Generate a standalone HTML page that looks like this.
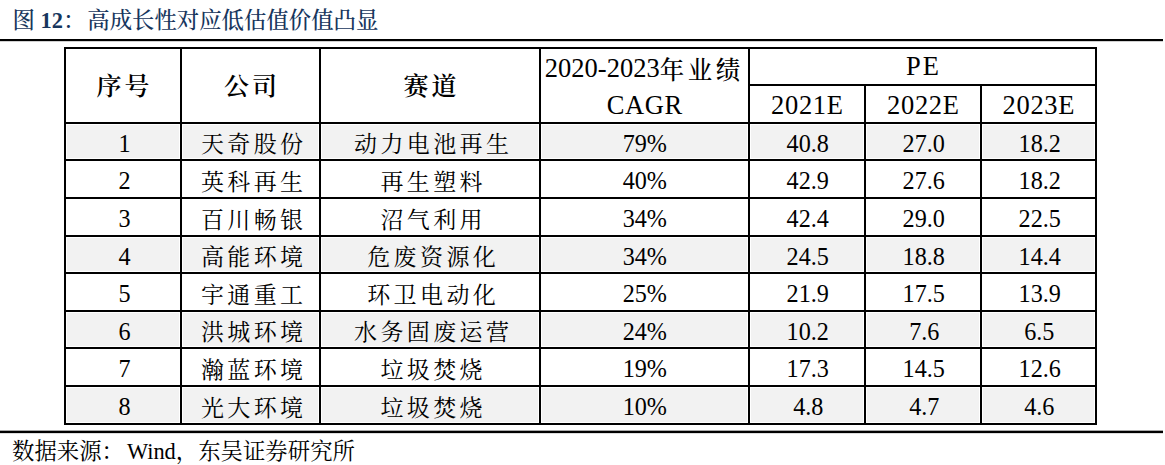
<!DOCTYPE html>
<html lang="zh-CN"><head><meta charset="utf-8"><title>图12：高成长性对应低估值价值凸显</title>
<style>
html,body{margin:0;padding:0;background:#fff;}
body{width:1165px;height:465px;position:relative;overflow:hidden;font-family:"Liberation Serif","Noto Serif CJK SC",serif;}
.ln{position:absolute;background:#000;}
.g{position:absolute;background:#f2f2f2;}
.c{position:absolute;display:flex;align-items:center;justify-content:center;white-space:nowrap;color:#000;}
.d{padding-top:4px;box-sizing:border-box;}
.k{font-size:23px;letter-spacing:3.4px;margin-right:-3.4px;position:relative;top:-1px;left:1.5px;}
.n{font-size:26px;display:inline-block;transform:scaleX(0.93);position:relative;left:1px;}
.n.p{left:0;}
.h{padding-bottom:3px;box-sizing:border-box;}
.h2{padding-top:4px;padding-right:4px;box-sizing:border-box;}
.h3{padding-top:2px;box-sizing:border-box;}
.hp{padding-top:0px;box-sizing:border-box;}
.hz{font-size:25px;font-weight:600;letter-spacing:3px;margin-right:-3px;}
.hn{font-size:26.5px;}
.hk{font-size:24.5px;font-weight:500;letter-spacing:3.5px;margin-right:-3.5px;}
.cagr{letter-spacing:0.6px;margin-right:-0.6px;}
.pe{letter-spacing:2px;margin-right:-2px;}
.yr{letter-spacing:0.7px;margin-right:-0.7px;}
#title{position:absolute;left:12.5px;top:2px;font-size:22.4px;font-weight:500;color:#17365d;white-space:nowrap;}
#title b{font-weight:700;}
#title .cl{margin-right:2px;}
#src{position:absolute;left:12px;top:432.5px;font-size:22.4px;color:#000;white-space:nowrap;}
#src .sp{margin-left:3px;}
#src .sp2{margin-left:0px;}
</style></head><body>
<div id="title">图 <b>12</b><span class="cl">：</span>高成长性对应低估值价值凸显</div>
<div class="ln" style="left:0;top:39px;width:1163px;height:2px"></div>
<div class="ln" style="left:0;top:41px;width:1163px;height:1px;background:#d0d0d0"></div>
<div class="g" style="left:67px;top:125px;width:112px;height:33px"></div>
<div class="g" style="left:183px;top:125px;width:135px;height:33px"></div>
<div class="g" style="left:322px;top:125px;width:216px;height:33px"></div>
<div class="g" style="left:542px;top:125px;width:205px;height:33px"></div>
<div class="g" style="left:751px;top:125px;width:112px;height:33px"></div>
<div class="g" style="left:867px;top:125px;width:112px;height:33px"></div>
<div class="g" style="left:983px;top:125px;width:111px;height:33px"></div>
<div class="g" style="left:67px;top:238px;width:112px;height:33px"></div>
<div class="g" style="left:183px;top:238px;width:135px;height:33px"></div>
<div class="g" style="left:322px;top:238px;width:216px;height:33px"></div>
<div class="g" style="left:542px;top:238px;width:205px;height:33px"></div>
<div class="g" style="left:751px;top:238px;width:112px;height:33px"></div>
<div class="g" style="left:867px;top:238px;width:112px;height:33px"></div>
<div class="g" style="left:983px;top:238px;width:111px;height:33px"></div>
<div class="g" style="left:67px;top:313px;width:112px;height:33px"></div>
<div class="g" style="left:183px;top:313px;width:135px;height:33px"></div>
<div class="g" style="left:322px;top:313px;width:216px;height:33px"></div>
<div class="g" style="left:542px;top:313px;width:205px;height:33px"></div>
<div class="g" style="left:751px;top:313px;width:112px;height:33px"></div>
<div class="g" style="left:867px;top:313px;width:112px;height:33px"></div>
<div class="g" style="left:983px;top:313px;width:111px;height:33px"></div>
<div class="g" style="left:67px;top:388px;width:112px;height:34px"></div>
<div class="g" style="left:183px;top:388px;width:135px;height:34px"></div>
<div class="g" style="left:322px;top:388px;width:216px;height:34px"></div>
<div class="g" style="left:542px;top:388px;width:205px;height:34px"></div>
<div class="g" style="left:751px;top:388px;width:112px;height:34px"></div>
<div class="g" style="left:867px;top:388px;width:112px;height:34px"></div>
<div class="g" style="left:983px;top:388px;width:111px;height:34px"></div>
<div class="ln" style="left:64px;top:47px;width:1033px;height:2px"></div>
<div class="ln" style="left:748px;top:84px;width:349px;height:2px"></div>
<div class="ln" style="left:64px;top:122px;width:1033px;height:2px"></div>
<div class="ln" style="left:64px;top:159px;width:1033px;height:2px"></div>
<div class="ln" style="left:64px;top:197px;width:1033px;height:2px"></div>
<div class="ln" style="left:64px;top:235px;width:1033px;height:2px"></div>
<div class="ln" style="left:64px;top:272px;width:1033px;height:2px"></div>
<div class="ln" style="left:64px;top:310px;width:1033px;height:2px"></div>
<div class="ln" style="left:64px;top:347px;width:1033px;height:2px"></div>
<div class="ln" style="left:64px;top:385px;width:1033px;height:2px"></div>
<div class="ln" style="left:64px;top:423px;width:1033px;height:2px"></div>
<div class="ln" style="left:64px;top:47px;width:2px;height:378px"></div>
<div class="ln" style="left:180px;top:47px;width:2px;height:378px"></div>
<div class="ln" style="left:319px;top:47px;width:2px;height:378px"></div>
<div class="ln" style="left:539px;top:47px;width:2px;height:378px"></div>
<div class="ln" style="left:748px;top:47px;width:2px;height:378px"></div>
<div class="ln" style="left:864px;top:84px;width:2px;height:341px"></div>
<div class="ln" style="left:980px;top:84px;width:2px;height:341px"></div>
<div class="ln" style="left:1095px;top:47px;width:2px;height:378px"></div>
<div class="c h" style="left:66px;top:49px;width:114px;height:73px"><span class="hz">序号</span></div>
<div class="c h" style="left:182px;top:49px;width:137px;height:73px"><span class="hz">公司</span></div>
<div class="c h" style="left:321px;top:49px;width:218px;height:73px"><span class="hz">赛道</span></div>
<div class="c h2" style="left:541px;top:49px;width:207px;height:35px"><span class="hn">2020-2023</span><span class="hk">年业绩</span></div>
<div class="c h3" style="left:541px;top:86px;width:207px;height:36px"><span class="hn cagr">CAGR</span></div>
<div class="c hp" style="left:750px;top:49px;width:345px;height:35px"><span class="hn pe">PE</span></div>
<div class="c h3" style="left:750px;top:86px;width:114px;height:36px"><span class="hn yr">2021E</span></div>
<div class="c h3" style="left:866px;top:86px;width:114px;height:36px"><span class="hn yr">2022E</span></div>
<div class="c h3" style="left:982px;top:86px;width:113px;height:36px"><span class="hn yr">2023E</span></div>
<div class="c d" style="left:66px;top:124px;width:114px;height:35px"><span class="n">1</span></div>
<div class="c d" style="left:182px;top:124px;width:137px;height:35px"><span class="k">天奇股份</span></div>
<div class="c d" style="left:321px;top:124px;width:218px;height:35px"><span class="k">动力电池再生</span></div>
<div class="c d" style="left:541px;top:124px;width:207px;height:35px"><span class="n p">79%</span></div>
<div class="c d" style="left:750px;top:124px;width:114px;height:35px"><span class="n">40.8</span></div>
<div class="c d" style="left:866px;top:124px;width:114px;height:35px"><span class="n">27.0</span></div>
<div class="c d" style="left:982px;top:124px;width:113px;height:35px"><span class="n">18.2</span></div>
<div class="c d" style="left:66px;top:161px;width:114px;height:36px"><span class="n">2</span></div>
<div class="c d" style="left:182px;top:161px;width:137px;height:36px"><span class="k">英科再生</span></div>
<div class="c d" style="left:321px;top:161px;width:218px;height:36px"><span class="k">再生塑料</span></div>
<div class="c d" style="left:541px;top:161px;width:207px;height:36px"><span class="n p">40%</span></div>
<div class="c d" style="left:750px;top:161px;width:114px;height:36px"><span class="n">42.9</span></div>
<div class="c d" style="left:866px;top:161px;width:114px;height:36px"><span class="n">27.6</span></div>
<div class="c d" style="left:982px;top:161px;width:113px;height:36px"><span class="n">18.2</span></div>
<div class="c d" style="left:66px;top:199px;width:114px;height:36px"><span class="n">3</span></div>
<div class="c d" style="left:182px;top:199px;width:137px;height:36px"><span class="k">百川畅银</span></div>
<div class="c d" style="left:321px;top:199px;width:218px;height:36px"><span class="k">沼气利用</span></div>
<div class="c d" style="left:541px;top:199px;width:207px;height:36px"><span class="n p">34%</span></div>
<div class="c d" style="left:750px;top:199px;width:114px;height:36px"><span class="n">42.4</span></div>
<div class="c d" style="left:866px;top:199px;width:114px;height:36px"><span class="n">29.0</span></div>
<div class="c d" style="left:982px;top:199px;width:113px;height:36px"><span class="n">22.5</span></div>
<div class="c d" style="left:66px;top:237px;width:114px;height:35px"><span class="n">4</span></div>
<div class="c d" style="left:182px;top:237px;width:137px;height:35px"><span class="k">高能环境</span></div>
<div class="c d" style="left:321px;top:237px;width:218px;height:35px"><span class="k">危废资源化</span></div>
<div class="c d" style="left:541px;top:237px;width:207px;height:35px"><span class="n p">34%</span></div>
<div class="c d" style="left:750px;top:237px;width:114px;height:35px"><span class="n">24.5</span></div>
<div class="c d" style="left:866px;top:237px;width:114px;height:35px"><span class="n">18.8</span></div>
<div class="c d" style="left:982px;top:237px;width:113px;height:35px"><span class="n">14.4</span></div>
<div class="c d" style="left:66px;top:274px;width:114px;height:36px"><span class="n">5</span></div>
<div class="c d" style="left:182px;top:274px;width:137px;height:36px"><span class="k">宇通重工</span></div>
<div class="c d" style="left:321px;top:274px;width:218px;height:36px"><span class="k">环卫电动化</span></div>
<div class="c d" style="left:541px;top:274px;width:207px;height:36px"><span class="n p">25%</span></div>
<div class="c d" style="left:750px;top:274px;width:114px;height:36px"><span class="n">21.9</span></div>
<div class="c d" style="left:866px;top:274px;width:114px;height:36px"><span class="n">17.5</span></div>
<div class="c d" style="left:982px;top:274px;width:113px;height:36px"><span class="n">13.9</span></div>
<div class="c d" style="left:66px;top:312px;width:114px;height:35px"><span class="n">6</span></div>
<div class="c d" style="left:182px;top:312px;width:137px;height:35px"><span class="k">洪城环境</span></div>
<div class="c d" style="left:321px;top:312px;width:218px;height:35px"><span class="k">水务固废运营</span></div>
<div class="c d" style="left:541px;top:312px;width:207px;height:35px"><span class="n p">24%</span></div>
<div class="c d" style="left:750px;top:312px;width:114px;height:35px"><span class="n">10.2</span></div>
<div class="c d" style="left:866px;top:312px;width:114px;height:35px"><span class="n">7.6</span></div>
<div class="c d" style="left:982px;top:312px;width:113px;height:35px"><span class="n">6.5</span></div>
<div class="c d" style="left:66px;top:349px;width:114px;height:36px"><span class="n">7</span></div>
<div class="c d" style="left:182px;top:349px;width:137px;height:36px"><span class="k">瀚蓝环境</span></div>
<div class="c d" style="left:321px;top:349px;width:218px;height:36px"><span class="k">垃圾焚烧</span></div>
<div class="c d" style="left:541px;top:349px;width:207px;height:36px"><span class="n p">19%</span></div>
<div class="c d" style="left:750px;top:349px;width:114px;height:36px"><span class="n">17.3</span></div>
<div class="c d" style="left:866px;top:349px;width:114px;height:36px"><span class="n">14.5</span></div>
<div class="c d" style="left:982px;top:349px;width:113px;height:36px"><span class="n">12.6</span></div>
<div class="c d" style="left:66px;top:387px;width:114px;height:36px"><span class="n">8</span></div>
<div class="c d" style="left:182px;top:387px;width:137px;height:36px"><span class="k">光大环境</span></div>
<div class="c d" style="left:321px;top:387px;width:218px;height:36px"><span class="k">垃圾焚烧</span></div>
<div class="c d" style="left:541px;top:387px;width:207px;height:36px"><span class="n p">10%</span></div>
<div class="c d" style="left:750px;top:387px;width:114px;height:36px"><span class="n">4.8</span></div>
<div class="c d" style="left:866px;top:387px;width:114px;height:36px"><span class="n">4.7</span></div>
<div class="c d" style="left:982px;top:387px;width:113px;height:36px"><span class="n">4.6</span></div>
<div class="ln" style="left:0;top:430px;width:1163px;height:1px;background:#a8a8a8"></div>
<div class="ln" style="left:0;top:431px;width:1163px;height:2px"></div>
<div class="ln" style="left:0;top:433px;width:1163px;height:1px;background:#dcdcdc"></div>
<div id="src">数据来源：<span class="sp">Wind</span><span class="sp2">，</span>东吴证券研究所</div>
</body></html>
